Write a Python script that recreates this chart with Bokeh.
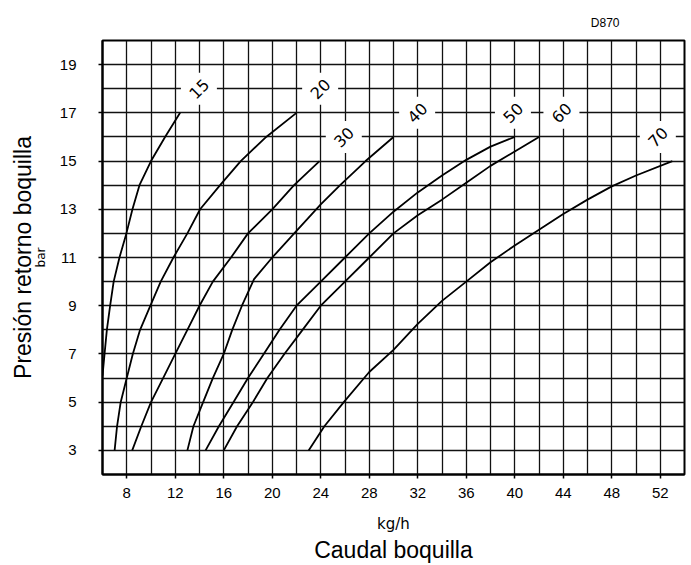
import math
from bokeh.plotting import figure
from bokeh.models import FixedTicker, ColumnDataSource, Range1d, LinearAxis
from bokeh.embed import file_html
from bokeh.resources import INLINE
from bokeh.core.properties import value

# ---------------- data ----------------
x_ticks = [8, 12, 16, 20, 24, 28, 32, 36, 40, 44, 48, 52]
y_ticks = [3, 5, 7, 9, 11, 13, 15, 17, 19]

curve_names = ["15", "20", "30", "40", "50", "60", "70"]

q15 = [6.0, 6.17, 6.36, 6.63, 6.92, 7.4, 7.97, 8.47, 9.05, 10.0, 11.16, 12.4]
p15 = [6.1, 7, 8, 9, 10, 11, 12, 13, 14, 15, 16, 17]

q20 = [7.0, 7.2, 7.5, 8.0, 8.5, 9.1, 9.95, 10.8, 11.85, 13.0, 14.05, 15.7, 17.4, 19.5, 22.0]
p20 = [3, 4, 5, 6, 7, 8, 9, 10, 11, 12, 13, 14, 15, 16, 17]

q30 = [8.45, 9.2, 10.0, 11.0, 12.0, 13.0, 14.0, 15.1, 16.6, 18.0, 20.0, 21.8, 23.9]
p30 = [3, 4, 5, 6, 7, 8, 9, 10, 11, 12, 13, 14, 15]

q40 = [13.0, 13.5, 14.3, 15.1, 16.0, 16.7, 17.5, 18.5, 20.0, 22.0, 24.0, 25.6, 27.7, 30.0]
p40 = [3, 4, 5, 6, 7, 8, 9, 10.1, 11, 12.1, 13.2, 14, 15, 16]

q50 = [14.5, 15.6, 16.8, 18.0, 19.3, 20.6, 22.0, 24.0, 26.0, 28.0, 30.0, 32.0, 34.0, 36.0, 38.0, 40.0]
p50 = [3, 4, 5, 6, 7, 8, 9, 10, 11, 12, 12.9, 13.7, 14.4, 15.05, 15.6, 16]

q60 = [16.0, 17.1, 18.4, 19.6, 21.0, 22.5, 24.0, 26.0, 28.0, 30.0, 32.0, 34.0, 36.0, 38.0, 40.0, 42.0]
p60 = [3, 4, 5, 6, 7, 8, 9, 10, 11, 12, 12.75, 13.4, 14.1, 14.8, 15.4, 16]

q70 = [23.0, 24.3, 25.9, 28.0, 30.0, 32.0, 34.0, 36.0, 38.0, 40.0, 42.0, 44.0, 46.0, 48.0, 50.0, 53.0]
p70 = [3, 4, 5, 6.25, 7.17, 8.25, 9.2, 10.0, 10.8, 11.5, 12.15, 12.8, 13.4, 13.95, 14.4, 15.0]

label_x = [13.95, 23.95, 25.9, 31.95, 39.85, 43.85, 51.8]
label_y = [18, 18, 16, 17, 17, 17, 16]

# ---------------- figure ----------------
p = figure(width=691, height=565, x_range=Range1d(6, 54), y_range=Range1d(2, 20),
           output_backend="svg", toolbar_location=None,
           min_border_left=102, min_border_right=7, min_border_top=40, min_border_bottom=88)

p.background_fill_color = "white"
p.border_fill_color = "white"
p.outline_line_color = "black"
p.outline_line_width = 2

p.title.text = "D870"
p.title.align = "right"
p.title.offset = 65
p.title.standoff = 22
p.title.text_font = "Liberation Sans"
p.title.text_font_size = "12px"
p.title.text_font_style = "normal"
p.title.text_color = "black"

p.xgrid.ticker = FixedTicker(ticks=list(range(6, 55, 2)))
p.ygrid.ticker = FixedTicker(ticks=list(range(2, 21)))
for g in (p.xgrid, p.ygrid):
    g.grid_line_color = "#111111"
    g.grid_line_width = 1.3
    g.grid_line_alpha = 1.0

p.xaxis.ticker = FixedTicker(ticks=x_ticks)
p.yaxis.ticker = FixedTicker(ticks=y_ticks)
for ax in (p.xaxis, p.yaxis):
    ax.axis_line_width = 2
    ax.axis_line_color = "black"
    ax.major_tick_out = 4
    ax.major_tick_in = 0
    ax.major_tick_line_width = 1.5
    ax.minor_tick_line_color = None
    ax.major_label_text_font = "Liberation Sans"
    ax.major_label_text_font_size = "15px"
    ax.major_label_text_color = "black"
    ax.axis_label_text_font = "DejaVu Sans"
    ax.axis_label_text_font_style = "normal"
    ax.axis_label_text_color = "black"
p.xaxis.major_label_standoff = 9
p.yaxis.major_label_standoff = 22
p.yaxis.axis_label = "bar"
p.yaxis.axis_label_text_font_size = "12px"
p.yaxis.axis_label_standoff = 9
p.xaxis.axis_label = "kg/h"
p.xaxis.axis_label_text_font_size = "15px"
p.xaxis.axis_label_standoff = 14

# outer axes carrying the main titles
ax_left = LinearAxis(ticker=FixedTicker(ticks=[]), axis_label="Presión retorno boquilla",
                     axis_line_color=None, major_tick_line_color=None, minor_tick_line_color=None,
                     major_label_text_font_size="0px", axis_label_text_font="Liberation Sans",
                     axis_label_text_font_size="23px", axis_label_text_font_style="normal",
                     axis_label_text_color="black", axis_label_standoff=-5)
p.add_layout(ax_left, "left")
ax_below = LinearAxis(ticker=FixedTicker(ticks=[]), axis_label="Caudal boquilla",
                      axis_line_color=None, major_tick_line_color=None, minor_tick_line_color=None,
                      major_label_text_font_size="0px", axis_label_text_font="Liberation Sans",
                      axis_label_text_font_size="23px", axis_label_text_font_style="normal",
                      axis_label_text_color="black", axis_label_standoff=1)
p.add_layout(ax_below, "below")

# white boxes interrupting the grid at the curve labels
lab_src = ColumnDataSource(dict(x=label_x, y=label_y, t=curve_names))
p.rect(x="x", y="y", width=36, height=32, width_units="screen", height_units="screen",
       source=lab_src, fill_color="white", line_color=None)

# curves
xs = [q15, q20, q30, q40, q50, q60, q70]
ys = [p15, p20, p30, p40, p50, p60, p70]
p.multi_line(xs=xs, ys=ys, line_color="black", line_width=1.8)

# curve labels
p.text(x="x", y="y", text="t", source=lab_src, angle=math.pi / 4,
       text_align="center", text_baseline="middle",
       text_font=value("DejaVu Sans"), text_font_size="16px", text_color="black")

open("out.html", "w").write(file_html(p, INLINE))
